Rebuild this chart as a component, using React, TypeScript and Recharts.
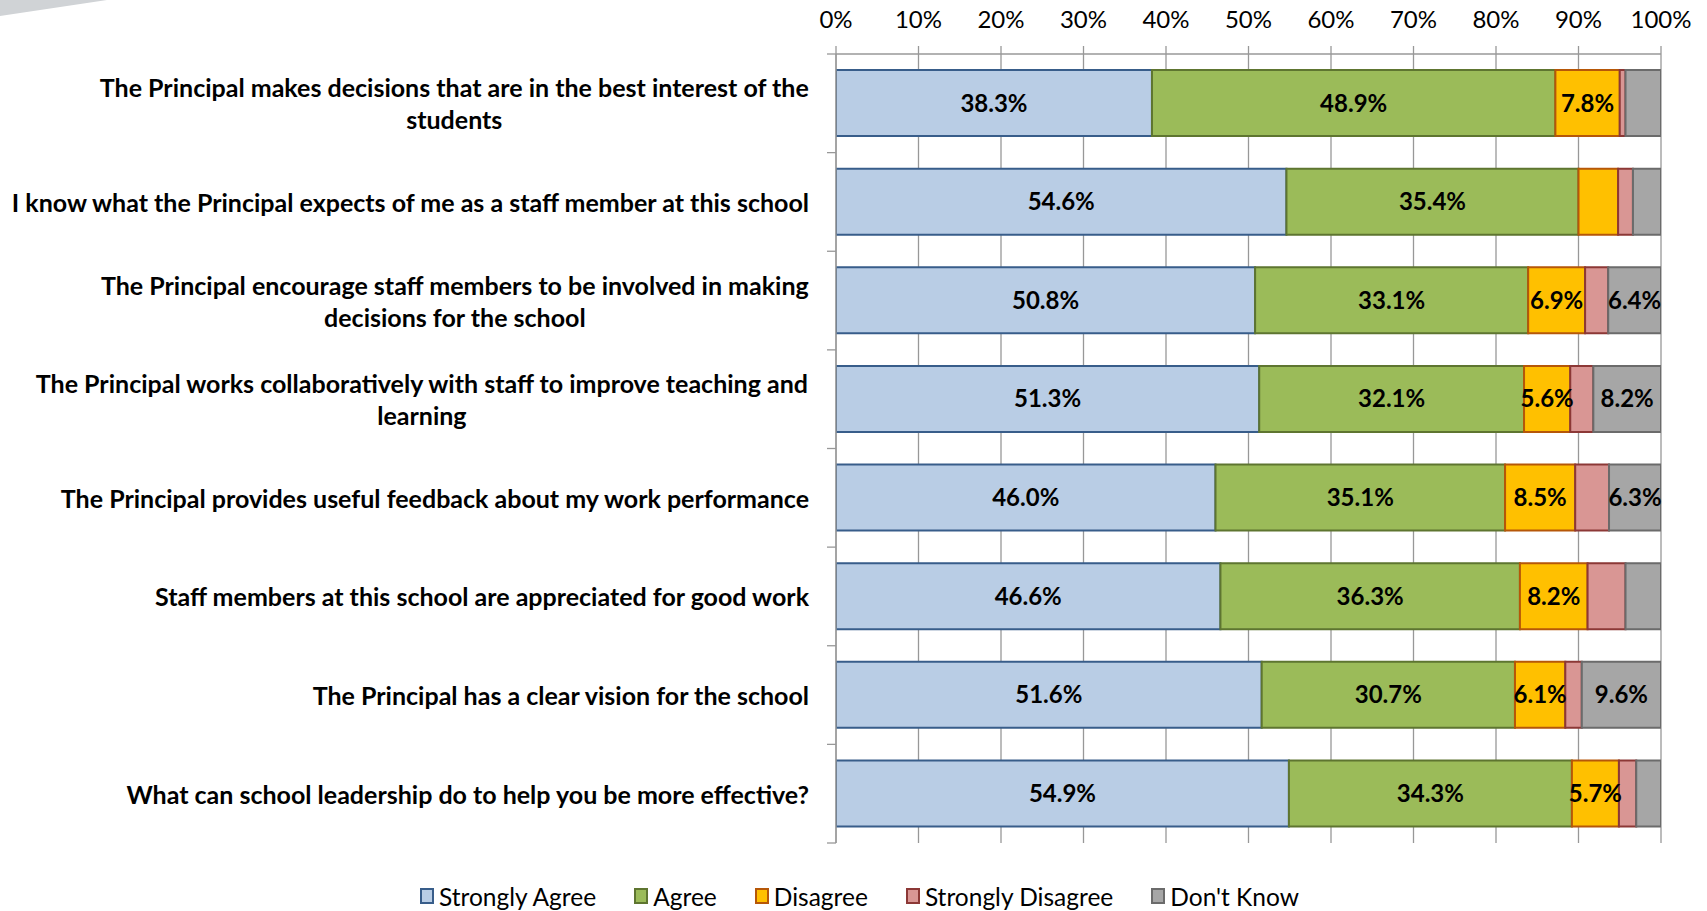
import { Bar, BarChart, CartesianGrid, LabelList, Legend, XAxis, YAxis } from "recharts";

const categories = [
  "The Principal makes decisions that are in the best interest of the\nstudents",
  "I know what the Principal expects of me as a staff member at this school",
  "The Principal encourage staff members to be involved in making\ndecisions for the school",
  "The Principal works collaboratively with staff to improve teaching and\nlearning",
  "The Principal provides useful feedback about my work performance",
  "Staff members at this school are appreciated for good work",
  "The Principal has a clear vision for the school",
  "What can school leadership do to help you be more effective?",
];

const stronglyAgree = [38.3, 54.6, 50.8, 51.3, 46.0, 46.6, 51.6, 54.9];
const agree = [48.9, 35.4, 33.1, 32.1, 35.1, 36.3, 30.7, 34.3];
const disagree = [7.8, 4.8, 6.9, 5.6, 8.5, 8.2, 6.1, 5.7];
const stronglyDisagree = [0.7, 1.8, 2.8, 2.8, 4.1, 4.6, 2.0, 2.1];
const dontKnow = [4.3, 3.4, 6.4, 8.2, 6.3, 4.3, 9.6, 3.0];

const xTicks = [0, 10, 20, 30, 40, 50, 60, 70, 80, 90, 100];

const data = categories.map((name, i) => ({
  name,
  sa: stronglyAgree[i],
  a: agree[i],
  d: disagree[i],
  sd: stronglyDisagree[i],
  dk: dontKnow[i],
}));

const series = [
  { key: "sa", name: "Strongly Agree", fill: "#B9CDE5", stroke: "#385D8A" },
  { key: "a", name: "Agree", fill: "#9BBB59", stroke: "#5E7530" },
  { key: "d", name: "Disagree", fill: "#FFC000", stroke: "#B65708" },
  { key: "sd", name: "Strongly Disagree", fill: "#D99694", stroke: "#8C3836" },
  { key: "dk", name: "Don't Know", fill: "#A6A6A6", stroke: "#6B6B6B" },
];

const W = 1707;
const H = 911;
const MARGIN = { top: 10, right: 46, bottom: 38, left: 0 };
const Y_AXIS_W = 836;
const X_AXIS_H = 44;
const LEGEND_H = 30;
const PLOT_H = H - MARGIN.top - X_AXIS_H - MARGIN.bottom - LEGEND_H;
const BAND = PLOT_H / categories.length;
const GRID = "#989898";
const FONT = "Lato, 'Open Sans', sans-serif";
const CAT_FONT_SIZE = 25;

let measureCtx: CanvasRenderingContext2D | null = null;
const measure = (s: string) => {
  if (!measureCtx) measureCtx = document.createElement("canvas").getContext("2d");
  if (!measureCtx) return s.length * 12;
  measureCtx.font = `bold ${CAT_FONT_SIZE}px ${FONT}`;
  return measureCtx.measureText(s).width;
};

const CategoryTick = (props: any) => {
  const { x, y, payload, index } = props;
  const lines = String(payload.value).split("\n");
  const top = y - BAND / 2;
  const right = x - 27;
  const blockW = Math.max(...lines.map(measure));
  const cx = lines.length > 1 ? right - blockW / 2 : right;
  return (
    <g>
      <line x1={x - 9} x2={x} y1={top} y2={top} stroke={GRID} strokeWidth={1.3} />
      {index === categories.length - 1 && (
        <line x1={x - 9} x2={x} y1={top + BAND} y2={top + BAND} stroke={GRID} strokeWidth={1.3} />
      )}
      <text
        textAnchor={lines.length > 1 ? "middle" : "end"}
        fontFamily={FONT}
        fontWeight="bold"
        fontSize={CAT_FONT_SIZE}
        fill="#000"
      >
        {lines.map((line, i) => (
          <tspan key={i} x={cx} y={y + (i - (lines.length - 1) / 2) * 32} dominantBaseline="central">
            {line}
          </tspan>
        ))}
      </text>
    </g>
  );
};

const LegendContent = () => (
  <div
    style={{
      display: "flex",
      justifyContent: "center",
      alignItems: "center",
      height: LEGEND_H,
      paddingLeft: 50,
      fontFamily: FONT,
      fontSize: 24.5,
      color: "#000",
    }}
  >
    {series.map((s) => (
      <div key={s.key} style={{ display: "flex", alignItems: "center", marginRight: 38 }}>
        <span
          style={{
            width: 14,
            height: 16,
            background: s.fill,
            border: `2px solid ${s.stroke}`,
            marginRight: 5,
            boxSizing: "border-box",
            display: "inline-block",
          }}
        />
        <span>{s.name}</span>
      </div>
    ))}
  </div>
);

export default function App() {
  return (
    <div style={{ position: "absolute", left: 0, top: 0, width: W, height: H, background: "#fff" }}>
      <div
        style={{
          position: "absolute",
          left: 0,
          top: 0,
          width: 107,
          height: 16,
          background: "#D0D3D6",
          clipPath: "polygon(0 0, 100% 0, 0 100%)",
        }}
      />
      <BarChart
        width={W}
        height={H}
        data={data}
        layout="vertical"
        margin={MARGIN}
        barSize={66}
      >
        <CartesianGrid horizontal={false} stroke={GRID} strokeWidth={1.3} />
        <XAxis
          type="number"
          orientation="top"
          domain={[0, 100]}
          ticks={xTicks}
          allowDataOverflow
          height={X_AXIS_H}
          tickFormatter={(v) => `${v}%`}
          tickSize={8}
          tickMargin={18}
          stroke={GRID}
          tickLine={{ stroke: GRID, strokeWidth: 1.3 }}
          axisLine={{ stroke: GRID, strokeWidth: 1.3 }}
          tick={{ fill: "#000", fontSize: 24, fontFamily: FONT }}
        />
        <YAxis
          type="category"
          dataKey="name"
          width={Y_AXIS_W}
          tickSize={0}
          tickMargin={0}
          tickLine={false}
          axisLine={{ stroke: GRID, strokeWidth: 1.3 }}
          tick={<CategoryTick />}
          interval={0}
        />
        <Legend content={<LegendContent />} wrapperStyle={{ top: 881, left: 0, width: W }} />
        {series.map((s) => (
          <Bar
            key={s.key}
            dataKey={s.key}
            name={s.name}
            stackId="all"
            fill={s.fill}
            stroke={s.stroke}
            strokeWidth={2}
            isAnimationActive={false}
          >
            <LabelList
              dataKey={s.key}
              position="center"
              formatter={(v: any) => (Number(v) >= 5 ? `${Number(v).toFixed(1)}%` : "")}
              fill="#000"
              fontSize={24}
              fontWeight="bold"
              fontFamily={FONT}
            />
          </Bar>
        ))}
      </BarChart>
    </div>
  );
}
